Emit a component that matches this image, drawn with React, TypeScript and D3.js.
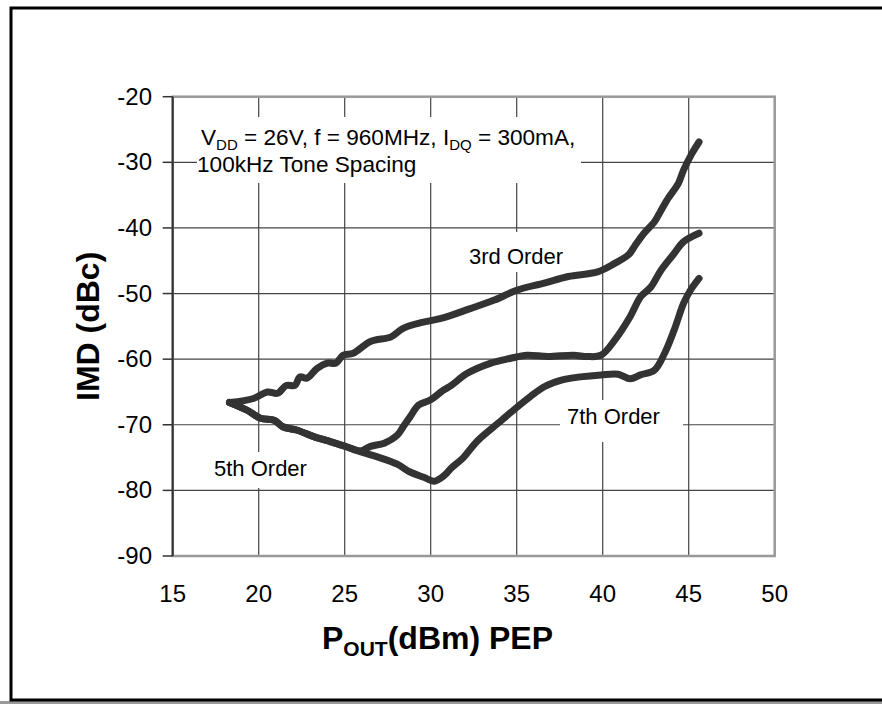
import { scaleLinear, line, curveCatmullRom } from "d3";

const width = 882;
const height = 704;

const xTicks = [15, 20, 25, 30, 35, 40, 45, 50];
const yTicks = [-20, -30, -40, -50, -60, -70, -80, -90];

// [Pout dBm, IMD dBc]
const thirdOrder: [number, number][] = [
  [18.3, -66.6], [19.7, -66.0], [20.5, -65.0], [21.1, -65.2], [21.6, -64.0],
  [22.1, -64.0], [22.4, -62.7], [22.8, -62.9], [23.4, -61.4], [24.0, -60.6],
  [24.5, -60.6], [24.9, -59.4], [25.5, -59.1], [26.5, -57.3], [27.7, -56.6],
  [28.4, -55.3], [29.5, -54.4], [30.6, -53.8], [32.3, -52.3], [33.7, -51.0],
  [35.0, -49.5], [36.6, -48.4], [38.0, -47.4], [39.7, -46.7], [40.7, -45.4],
  [41.5, -44.1], [41.9, -42.6], [42.4, -40.8], [43.0, -39.1], [43.4, -37.3],
  [43.8, -35.5], [44.4, -33.2], [44.7, -31.2], [45.2, -28.6], [45.6, -26.9],
];

const fifthOrder: [number, number][] = [
  [18.3, -66.6], [19.3, -67.75], [20.1, -69.0], [20.9, -69.3], [21.4, -70.3],
  [22.2, -70.8], [23.2, -71.8], [24.2, -72.6], [25.1, -73.35], [25.9, -74.0],
  [26.5, -73.3], [27.3, -72.8], [28.05, -71.6], [28.4, -70.3], [28.8, -68.8],
  [29.3, -67.0], [30.0, -66.2], [30.7, -64.8], [31.2, -64.0], [32.1, -62.2],
  [33.5, -60.6], [34.6, -59.9], [35.6, -59.4], [36.8, -59.6], [38.3, -59.4],
  [39.1, -59.6], [39.9, -59.4], [40.7, -57.1], [41.6, -53.5], [42.2, -50.5],
  [42.8, -49.0], [43.4, -46.4], [44.15, -43.9], [44.7, -42.1], [45.6, -40.8],
];

const seventhOrder: [number, number][] = [
  [18.3, -66.6], [19.3, -67.75], [20.1, -69.0], [20.9, -69.3], [21.4, -70.3],
  [22.2, -70.8], [23.2, -71.8], [24.2, -72.6], [25.1, -73.35], [25.9, -74.1],
  [26.9, -74.9], [28.05, -76.0], [28.8, -77.2], [29.6, -78.0], [30.2, -78.6],
  [30.8, -77.7], [31.2, -76.6], [31.9, -75.0], [32.7, -72.5], [33.9, -69.8],
  [34.8, -67.8], [35.8, -65.7], [36.6, -64.2], [37.6, -63.2], [38.7, -62.7],
  [39.9, -62.4], [40.9, -62.3], [41.6, -63.0], [42.2, -62.4], [43.0, -61.7],
  [43.6, -59.1], [44.15, -55.6], [44.7, -51.5], [45.1, -49.5], [45.6, -47.7],
];

const x = scaleLinear().domain([15, 50]).range([172.7, 774.7]);
const y = scaleLinear().domain([-20, -90]).range([96.7, 556]);

const font = "'Liberation Sans', Arial, sans-serif";

const App = () => {
  const path = line<[number, number]>()
    .x((d) => x(d[0]))
    .y((d) => y(d[1]))
    .curve(curveCatmullRom);

  const [x0, x1] = x.range();
  const [y0, y1] = y.range();

  return (
    <svg
      width={width}
      height={height}
      style={{ position: "absolute", left: 0, top: 0, display: "block", background: "#fff" }}
      fontFamily={font}
    >
      {/* outer frame */}
      <line x1={0} x2={width} y1={702.5} y2={702.5} stroke="#999" strokeWidth={3} />
      <rect x={11} y={8} width={width} height={692} fill="none" stroke="#000" strokeWidth={3} />

      {/* grid */}
      {xTicks.slice(1, -1).map((t) => (
        <line key={"gx" + t} x1={x(t)} x2={x(t)} y1={y0} y2={y1} stroke="#444" strokeWidth={1.2} />
      ))}
      {yTicks.slice(1, -1).map((t) => (
        <line key={"gy" + t} x1={x0} x2={x1} y1={y(t)} y2={y(t)} stroke="#444" strokeWidth={1.2} />
      ))}

      {/* label boxes covering grid */}
      <rect x={197} y={117} width={384} height={66} fill="#fff" />
      <rect x={462} y={232} width={110} height={40} fill="#fff" />
      <rect x={205} y={452} width={113} height={36} fill="#fff" />
      <rect x={560} y={400} width={123} height={42} fill="#fff" />

      {/* plot frame */}
      <rect x={x0} y={y0} width={x1 - x0} height={y1 - y0} fill="none" stroke="#999" strokeWidth={2.5} />
      <line x1={x0} x2={x0} y1={y0} y2={y1} stroke="#333" strokeWidth={2} />
      {yTicks.map((t) => (
        <line key={"ty" + t} x1={x0 - 10} x2={x0} y1={y(t)} y2={y(t)} stroke="#333" strokeWidth={1.5} />
      ))}

      {/* curves */}
      {[thirdOrder, fifthOrder, seventhOrder].map((s, i) => (
        <path
          key={i}
          d={path(s) ?? ""}
          fill="none"
          stroke="#333"
          strokeWidth={7}
          strokeLinecap="round"
          strokeLinejoin="round"
        />
      ))}

      {/* tick labels */}
      {yTicks.map((t) => (
        <text key={"ly" + t} x={152} y={y(t) + 8} fontSize={24} textAnchor="end">
          {t}
        </text>
      ))}
      {xTicks.map((t) => (
        <text key={"lx" + t} x={x(t)} y={602} fontSize={24} textAnchor="middle">
          {t}
        </text>
      ))}

      {/* annotation */}
      <text x={201} y={145} fontSize={22.6}>
        V<tspan fontSize={15} dy={5}>DD</tspan>
        <tspan dy={-5}> = 26V, f = 960MHz, I</tspan>
        <tspan fontSize={15} dy={5}>DQ</tspan>
        <tspan dy={-5}> = 300mA,</tspan>
      </text>
      <text x={197} y={172} fontSize={22.6}>
        100kHz Tone Spacing
      </text>

      <text x={469} y={264} fontSize={22}>3rd Order</text>
      <text x={214} y={476} fontSize={22}>5th Order</text>
      <text x={567} y={424} fontSize={22}>7th Order</text>

      {/* axis titles */}
      <text
        transform={`translate(99, ${(y0 + y1) / 2}) rotate(-90)`}
        fontSize={32}
        fontWeight="bold"
        textAnchor="middle"
      >
        IMD (dBc)
      </text>
      <text x={322} y={649} fontSize={32} fontWeight="bold">
        P<tspan fontSize={21} dy={7}>OUT</tspan>
        <tspan dy={-7}>(dBm) PEP</tspan>
      </text>
    </svg>
  );
};

export default App;
